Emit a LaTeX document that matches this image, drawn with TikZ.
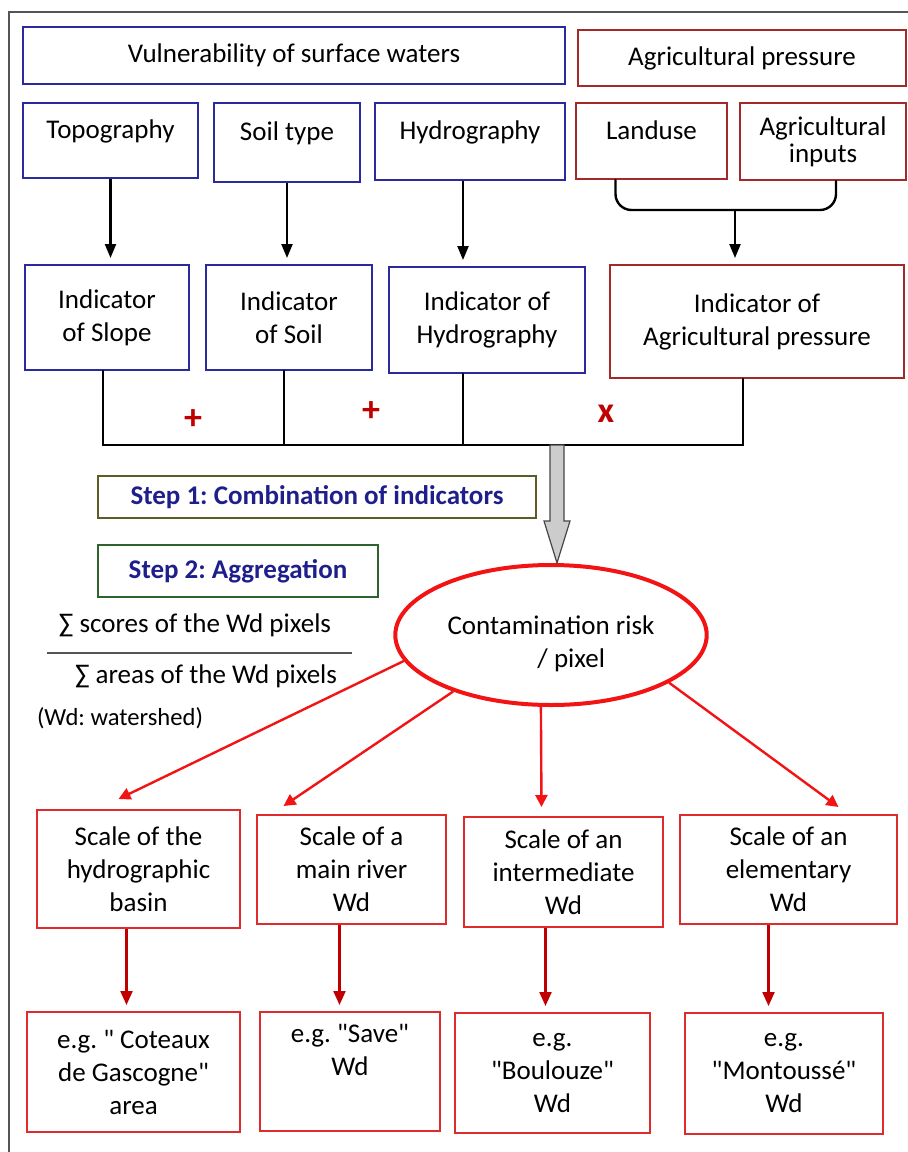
\documentclass[tikz,border=0pt]{standalone}
\usepackage{fontspec}
\setmainfont{Carlito}[Ligatures=TeXOff]
\usepackage{tikz}
\usetikzlibrary{arrows.meta,positioning,shapes.geometric,calc}
\definecolor{waterBlue}{HTML}{2A2A9E}
\definecolor{pressRed}{HTML}{A32A2A}
\definecolor{scaleRed}{HTML}{DE2C2C}
\definecolor{riskRed}{HTML}{F21414}
\definecolor{darkRed}{HTML}{C00000}
\definecolor{stepNavy}{HTML}{1F1F8C}
\definecolor{stepOlive}{HTML}{5C5C26}
\definecolor{stepGreen}{HTML}{2D632D}
\definecolor{frameGray}{HTML}{555555}
\newcommand{\basefont}{\fontsize{13.5}{16.5}\selectfont}
\frenchspacing

\begin{document}
\begin{tikzpicture}[x=0.5pt,y=-0.5pt,font=\basefont,
    box/.style={draw,line width=1pt,align=center,inner sep=2pt},
    waterbox/.style={box,draw=waterBlue},
    pressbox/.style={box,draw=pressRed},
    scalebox/.style={box,draw=scaleRed},
    raised/.style={text depth=11pt},
    link/.style={line width=1.2pt,line cap=round},
    arrow/.style={line width=1.1pt,shorten >=3pt,-{Triangle[length=7pt,width=5.5pt]}},
    riskarrow/.style={riskRed,line width=1.2pt,-{Triangle[length=6pt,width=6pt]}},
    scalearrow/.style={darkRed,line width=1.1pt,shorten >=3pt,-{Triangle[length=7pt,width=6pt]}},
    op/.style={text=darkRed,font=\fontsize{18}{20}\selectfont\bfseries},
    stepbox/.style={draw,line width=1pt,text=stepNavy,font=\basefont\bfseries,inner sep=3pt}]
    \useasboundingbox (0,0) rectangle (908,1152);
    \draw[frameGray,line width=0.8pt] (9,1152) -- (9,12) -- (908,12);

    % sources
    \node[waterbox,minimum width=271pt,minimum height=28.5pt] (vuln) at (294,55.5) {Vulnerability of surface waters};
    \node[pressbox,minimum width=164pt,minimum height=28pt] (agri) at (742,58) {Agricultural pressure};
    \node[waterbox,raised,minimum width=87.5pt,minimum height=37.5pt] (topo) at (110.5,140.5) {Topography};
    \node[waterbox,raised,minimum width=73pt,minimum height=39.5pt] (soil) at (287,142.5) {Soil type};
    \node[waterbox,raised,minimum width=95pt,minimum height=38.5pt] (hydro) at (470,141.5) {Hydrography};
    \node[pressbox,raised,minimum width=75.5pt,minimum height=38pt] (landuse) at (651.5,141) {Landuse};
    \node[pressbox,minimum width=83pt,minimum height=38.5pt] (inputs) at (823,141.5) {Agricultural\\[-3pt]inputs};

    % indicators
    \node[waterbox,minimum width=82pt,minimum height=52.5pt] (islope) at (107,317.5) {Indicator\\of Slope};
    \node[waterbox,minimum width=83pt,minimum height=52.5pt] (isoil) at (289,317.5) {Indicator\\of Soil};
    \node[waterbox,minimum width=98pt,minimum height=53pt] (ihydro) at (487,320) {Indicator of\\Hydrography};
    \node[pressbox,minimum width=147pt,minimum height=56.5pt] (iagri) at (757,321.5) {Indicator of\\Agricultural pressure};

    \draw[arrow] (topo.south) -- (topo.south |- islope.north);
    \draw[arrow] (soil.south) -- (soil.south |- isoil.north);
    \draw[arrow] ([xshift=-3.5pt]hydro.south) -- ([xshift=-3.5pt]hydro.south |- ihydro.north);
    \coordinate (join) at (735,210);
    \draw[link,rounded corners=8pt] ([xshift=-18pt]landuse.south) |- (join) -| ([xshift=6.5pt]inputs.south);
    \draw[arrow] (join) -- (join |- iagri.north);

    % combination
    \coordinate (comb) at (557,445);
    \draw[link] ([xshift=-2pt]islope.south) |- (comb) -| ([xshift=-7pt]iagri.south);
    \draw[link] ([xshift=-2.5pt]isoil.south) -- ([xshift=-2.5pt]isoil.south |- comb);
    \draw[link] ([xshift=-12pt]ihydro.south) -- ([xshift=-12pt]ihydro.south |- comb);
    \node[op] (plusA) at (193,420) {+};
    \node[op] (plusB) at (371,412) {+};
    \node[op] (times) at (606,414) {x};

    \node[stepbox,draw=stepOlive,minimum width=219pt,minimum height=21pt] (step1) at (317,497) {Step 1: Combination of indicators};
    \node[stepbox,draw=stepGreen,minimum width=140pt,minimum height=26pt] (step2) at (238,571) {Step 2: Aggregation};

    \node[ellipse,draw=riskRed,line width=2pt,minimum width=149pt,minimum height=70pt,align=center] (risk) at (551,635) {\rule{0pt}{18pt}Contamination risk\\\hspace{1.5em}/ pixel};
    \coordinate (tip) at (comb |- risk.north);
    \draw[draw=gray!55!black,fill=gray!40,line width=0.6pt] ([xshift=-3.5pt]comb) -- ([xshift=-3.5pt,yshift=21pt]tip)
        -- ([xshift=-6.5pt,yshift=21pt]tip) -- (tip) -- ([xshift=6.5pt,yshift=21pt]tip)
        -- ([xshift=3.5pt,yshift=21pt]tip) -- ([xshift=3.5pt]comb) -- cycle;

    % aggregation formula
    \node (scores) at (195,625) {∑ scores of the Wd pixels};
    \node (areas) at (206,676) {∑ areas of the Wd pixels};
    \draw[frameGray,line width=0.8pt] (47,653) -- (352,653);
    \node[font=\fontsize{12.3}{14}\selectfont] (wdnote) at (120,718) {(Wd: watershed)};

    % scales
    \node[scalebox,minimum width=101.5pt,minimum height=59pt] (sbasin) at (138.5,869) {Scale of the\\hydrographic\\basin};
    \node[scalebox,minimum width=94.5pt,minimum height=54.5pt] (sriver) at (351.5,869.5) {Scale of a\\main river\\Wd};
    \node[scalebox,minimum width=99.5pt,minimum height=55pt] (sinter) at (563.5,872) {Scale of an\\intermediate\\Wd};
    \node[scalebox,minimum width=108.5pt,minimum height=54.5pt] (selem) at (788.5,869.5) {Scale of an\\elementary\\Wd};

    \node[scalebox,minimum width=106.5pt,minimum height=60pt] (ecot) at (133.5,1072) {e.g. " Coteaux\\de Gascogne"\\area};
    \node[scalebox,minimum width=90pt,minimum height=59.5pt] (esave) at (350,1071.5) {e.g. "Save"\\Wd\\\strut};
    \node[scalebox,minimum width=97.5pt,minimum height=60pt] (ebou) at (552.5,1073) {e.g.\\"Boulouze"\\Wd};
    \node[scalebox,minimum width=99pt,minimum height=60.5pt] (emon) at (784,1073.5) {e.g.\\"Montoussé"\\Wd};

    \draw[riskarrow] (risk.190) -- ([xshift=-10pt,yshift=5pt]sbasin.north);
    \draw[riskarrow] (risk.210) -- ([xshift=-34pt,yshift=4pt]sriver.north);
    \draw[riskarrow] (risk.262) -- ([xshift=-11pt,yshift=4.5pt]sinter.north);
    \draw[riskarrow] (risk.338) -- ([xshift=25pt,yshift=3.5pt]selem.north);

    \draw[scalearrow] ([xshift=-6pt]sbasin.south) -- ([xshift=-6pt]sbasin.south |- ecot.north);
    \draw[scalearrow] ([xshift=-6pt]sriver.south) -- ([xshift=-6pt]sriver.south |- esave.north);
    \draw[scalearrow] ([xshift=-9pt]sinter.south) -- ([xshift=-9pt]sinter.south |- ebou.north);
    \draw[scalearrow] ([xshift=-10pt]selem.south) -- ([xshift=-10pt]selem.south |- emon.north);
\end{tikzpicture}
\end{document}
